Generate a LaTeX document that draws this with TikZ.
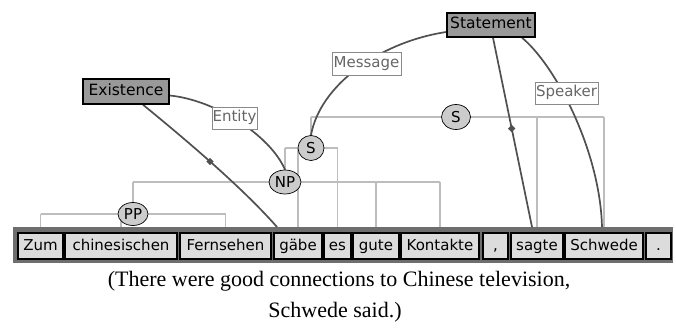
\documentclass[tikz,border=0pt]{standalone}
\usepackage{fontspec}
\setmainfont{Liberation Serif}
\newfontfamily\wfont{DejaVu Sans}
\usetikzlibrary{backgrounds,shapes.geometric}
\definecolor{barcol}{HTML}{6E6E6E}
\definecolor{wordfill}{HTML}{DCDCDC}
\definecolor{treecol}{HTML}{BDBDBD}
\definecolor{tnfill}{HTML}{CCCCCC}
\definecolor{framefill}{HTML}{999999}
\definecolor{concol}{HTML}{505050}
\definecolor{lblcol}{HTML}{666666}
\definecolor{lbldraw}{HTML}{8A8A8A}
\begin{document}
\begin{tikzpicture}[x=1pt,y=-1pt,
  word/.style={draw=black, line width=1.2pt, fill=wordfill, minimum height=26pt,
    inner sep=0pt, text height=11pt, text depth=3pt,
    font=\wfont\fontsize{15}{15}\selectfont},
  tnode/.style={ellipse, draw=black, line width=0.7pt, fill=tnfill, inner sep=0pt,
    font=\wfont\fontsize{15}{15}\selectfont},
  frame/.style={draw=black, line width=1.5pt, fill=framefill, inner sep=0pt,
    minimum height=24pt, text height=11pt, text depth=3pt,
    font=\wfont\fontsize{15.5}{15.5}\selectfont},
  role/.style={draw=lbldraw, line width=0.8pt, fill=white, text=lblcol, inner sep=0pt,
    minimum height=22pt, text height=11pt, text depth=3pt,
    font=\wfont\fontsize{15}{15}\selectfont},
  treeline/.style={draw=treecol, line width=1.8pt},
  con/.style={draw=concol, line width=1.7pt},
  dotmark/.style={diamond, fill=concol, inner sep=0pt, minimum size=8pt}]
\useasboundingbox (0,0) rectangle (676,331);

% words
\node[word, minimum width=45pt] (Zum) at (40.5,246) {Zum};
\node[word, minimum width=112pt] (chin) at (121,246) {chinesischen};
\node[word, minimum width=91pt] (Fern) at (225.5,246) {Fernsehen};
\node[word, minimum width=48pt] (gaebe) at (298,246) {gäbe};
\node[word, minimum width=27pt] (es) at (337.5,246) {es};
\node[word, minimum width=46pt] (gute) at (376,246) {gute};
\node[word, minimum width=78pt] (Kont) at (440,246) {Kontakte};
\node[word, minimum width=25pt] (comma) at (495.5,246) {,};
\node[word, minimum width=52pt] (sagte) at (537,246) {sagte};
\node[word, minimum width=78pt] (Schw) at (604,246) {Schwede};
\node[word, minimum width=25pt] (stop) at (658.5,246) {.};

% tree nodes
\node[tnode, minimum width=30pt, minimum height=23pt] (PP) at (133,214) {PP};
\node[tnode, minimum width=32pt, minimum height=24pt] (NP) at (285,182) {NP};
\node[tnode, minimum width=26pt, minimum height=25pt] (S1) at (311,148) {S};
\node[tnode, minimum width=29pt, minimum height=25pt] (S2) at (456,117) {S};

% frames and roles
\node[frame, minimum width=86pt, minimum height=25pt] (Exist) at (126,91.5) {Existence};
\node[frame, minimum width=88pt] (Stat) at (491,25) {Statement};
\node[role, minimum width=45pt] (Entity) at (234.5,118) {Entity};
\node[role, minimum width=69pt, minimum height=23pt] (Msg) at (366.5,63.5) {Message};
\node[role, minimum width=63pt] (Spk) at (566.5,93) {Speaker};

% caption
\node[anchor=base, inner sep=0pt, font=\fontsize{22}{26}\selectfont] (cap1) at (339,286)
  {(There were good connections to Chinese television,};
\node[anchor=base, inner sep=0pt, font=\fontsize{22}{26}\selectfont] (cap2) at (335,317)
  {Schwede said.)};

\begin{pgfonlayer}{background}
\fill[white] (0,0) rectangle (676,331);
\node[fill=barcol, minimum width=660pt, minimum height=36pt, inner sep=0pt,
  anchor=north west] (bar) at (13,227) {};
% PP
\draw[treeline] (Zum |- PP) -- (Fern |- PP);
\draw[treeline] (Zum |- PP) -- (Zum |- bar.north);
\draw[treeline] (chin |- PP) -- (chin |- bar.north);
\draw[treeline] (Fern |- PP) -- (Fern |- bar.north);
% NP
\draw[treeline] (PP |- NP) -- (Kont |- NP);
\draw[treeline] (PP |- NP) -- (PP.north);
\draw[treeline] (gute |- NP) -- (gute |- bar.north);
\draw[treeline] (Kont |- NP) -- (Kont |- bar.north);
% S1
\draw[treeline] (NP |- S1) -- (es |- S1);
\draw[treeline] (NP |- S1) -- (NP.north);
\draw[treeline] (gaebe |- S1) -- (gaebe |- bar.north);
\draw[treeline] (es |- S1) -- (es |- bar.north);
% S2
\draw[treeline] (S1 |- S2) -- (Schw |- S2);
\draw[treeline] (S1 |- S2) -- (S1.north);
\draw[treeline] (sagte |- S2) -- (sagte |- bar.north);
\draw[treeline] (Schw |- S2) -- (Schw |- bar.north);

% frame connectors
\coordinate (gEnd) at (277,227);
\coordinate (sEnd) at (532,227);
\coordinate (wEnd) at (602,227);
\draw[con] ([yshift=-4pt]Exist.east) .. controls (215,100) and (270,135) .. (NP.north);
\draw[con] ([xshift=17pt]Exist.south) .. controls (180,135) and (240,185) .. (gEnd)
  node[dotmark, pos=0.5] {};
\draw[con] ([yshift=-7pt]Stat.west) .. controls (380,42) and (320,85) .. (S1.north);
\draw[con] ([xshift=2pt]Stat.south) -- (sEnd) node[dotmark, pos=0.48] {};
\draw[con] ([xshift=31pt]Stat.south) .. controls (555,65) and (600,150) .. (wEnd);
\end{pgfonlayer}
\end{tikzpicture}
\end{document}
